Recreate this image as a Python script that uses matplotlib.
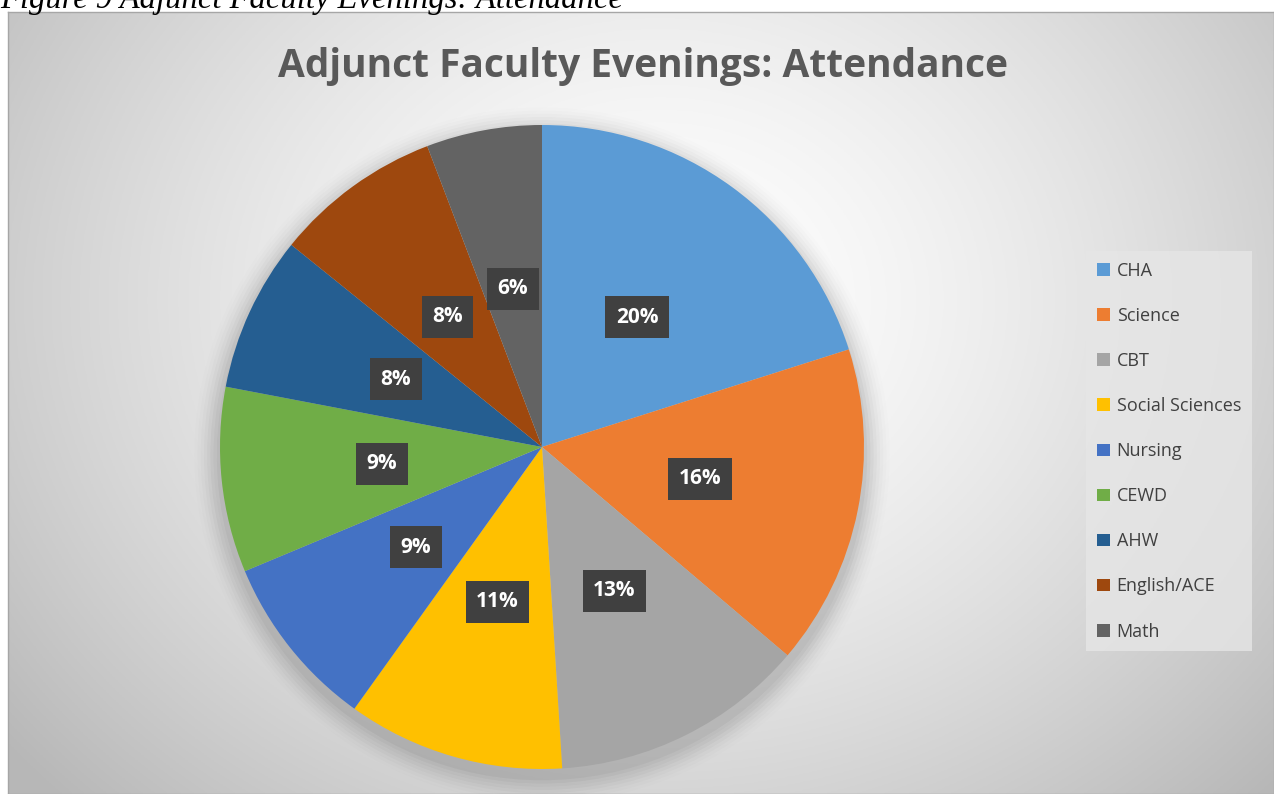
import numpy as np
import matplotlib
matplotlib.use("Agg")
import matplotlib.pyplot as plt

# ---- data ----
categories = ["CHA", "Science", "CBT", "Social Sciences", "Nursing", "CEWD", "AHW", "English/ACE", "Math"]
shares = [20.1, 16.1, 12.8, 10.9, 8.8, 9.3, 7.8, 8.4, 5.8]
colors = ["#5B9BD5", "#ED7D31", "#A5A5A5", "#FFC000", "#4472C4", "#70AD47", "#255E91", "#9E480E", "#636363"]
title = "Adjunct Faculty Evenings: Attendance"
caption = "Figure 9 Adjunct Faculty Evenings: Attendance"

W, H = 1274, 794
fig = plt.figure(figsize=(W / 100, H / 100), dpi=100)
fig.patch.set_facecolor("white")

# chart area background (radial gradient)
x0, y0, x1, y1 = 8, 12, 1274, 794  # pixel box (top-left origin)
bg = fig.add_axes([x0 / W, 1 - y1 / H, (x1 - x0) / W, (y1 - y0) / H])
gx = np.linspace(x0, x1, 400)
gy = np.linspace(y0, y1, 300)
X, Y = np.meshgrid(gx, gy)
d = np.sqrt(((X - 660) / 760) ** 2 + ((Y - 300) / 640) ** 2)
val = 1.0 - 0.24 * np.clip(d, 0, 1.3) ** 1.5
val = np.clip(val, 0.72, 1.0)
bg.imshow(np.dstack([val, val, val]), extent=[0, 1, 0, 1], aspect="auto", origin="upper")
bg.set_xticks([]); bg.set_yticks([])
for s in bg.spines.values():
    s.set_color("#a6a6a6"); s.set_linewidth(1.0)

# caption (cut off at top)
fig.text(0.0, 1 - 8 / H, caption, fontsize=23.5, family="Liberation Serif", style="italic",
         va="baseline", ha="left", color="black")

# title
fig.text(643 / W, 1 - 66 / H, title, fontsize=28, fontweight="bold", family="Open Sans",
         color="#595959", ha="center", va="center")

# pie
cx, cy, r = 542, 447, 322
ax = fig.add_axes([(cx - r) / W, (H - cy - r) / H, 2 * r / W, 2 * r / H])
ax.set_aspect("equal")
ax.axis("off")

# soft shadow
for i, a in enumerate(np.linspace(0.035, 0.008, 8)):
    circ = plt.Circle((0.0, -0.025), 1.0 + 0.01 * (i + 1), color="black", alpha=a, lw=0,
                      zorder=0, clip_on=False)
    ax.add_patch(circ)

wedges, texts, autotexts = ax.pie(
    shares, colors=colors, startangle=90, counterclock=False, radius=1.0,
    autopct="%1.0f%%", pctdistance=0.5,
    wedgeprops=dict(linewidth=0),
    textprops=dict(color="white", fontsize=15, fontweight="bold", family="Open Sans"),
)
ax.set_xlim(-1, 1); ax.set_ylim(-1, 1)
for w in wedges:
    w.set_clip_on(False)
for t in autotexts:
    t.set_bbox(dict(boxstyle="square,pad=0.5", facecolor="#404040", edgecolor="none"))
    t.set_zorder(5)

# legend
leg = fig.legend(wedges, categories, loc="upper left",
                 bbox_to_anchor=(1077 / W, 1 - 242 / H), frameon=True,
                 prop=dict(family="Open Sans", size=13), labelcolor="#404040",
                 handlelength=0.7, handleheight=0.7, handletextpad=0.4,
                 labelspacing=1.5, borderpad=0.6, fancybox=False)
leg.get_frame().set_facecolor("#e6e6e6")
leg.get_frame().set_edgecolor("none")
leg.get_frame().set_alpha(0.8)

fig.savefig("out.png", dpi=100)
